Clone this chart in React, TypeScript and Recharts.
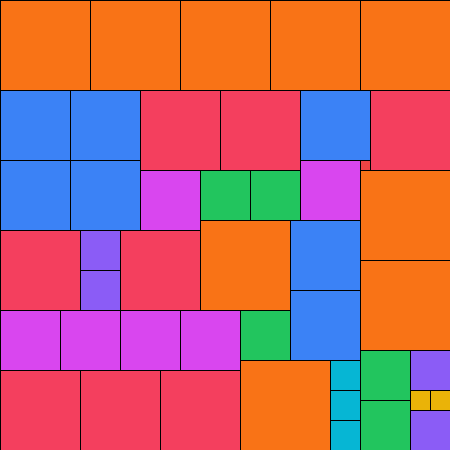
import React from 'react';
import { ComposedChart, XAxis, YAxis, ReferenceArea } from 'recharts';

// Square tiling on a 45 x 45 grid: n squares of side n, for n = 9 … 1
const gridSize = 45;
const sideLengths = [9, 8, 7, 6, 5, 4, 3, 2, 1];

// [column, row] of each square's top-left corner, in grid units
const squares9 = [[0, 0], [9, 0], [18, 0], [27, 0], [36, 0], [36, 17], [20, 22], [36, 26], [24, 36]];
const squares8 = [[14, 9], [22, 9], [37, 9], [0, 23], [12, 23], [0, 37], [8, 37], [16, 37]];
const squares7 = [[0, 9], [7, 9], [0, 16], [7, 16], [30, 9], [29, 22], [29, 29]];
const squares6 = [[14, 17], [30, 16], [0, 31], [6, 31], [12, 31], [18, 31]];
const squares5 = [[20, 17], [25, 17], [24, 31], [36, 35], [36, 40]];
const squares4 = [[8, 23], [8, 27], [41, 35], [41, 41]];
const squares3 = [[33, 36], [33, 39], [33, 42]];
const squares2 = [[41, 39], [43, 39]];
const squares1 = [[36, 16]];

const groups = [squares9, squares8, squares7, squares6, squares5, squares4, squares3, squares2, squares1];

const palette = ['#f97316', '#f43f5e', '#3b82f6', '#d946ef', '#22c55e', '#8b5cf6', '#06b6d4', '#eab308', '#ef4444'];

export default function App() {
  return (
    <div style={{ position: 'absolute', left: 0, top: 0, width: 450, height: 450 }}>
      <ComposedChart width={450} height={450} margin={{ top: 0, right: 0, bottom: 0, left: 0 }}>
        <XAxis type="number" dataKey="x" domain={[0, gridSize]} hide allowDataOverflow />
        <YAxis type="number" dataKey="y" domain={[0, gridSize]} hide reversed allowDataOverflow />
        {sideLengths.map((s, gi) =>
          groups[gi].map(([c, r], i) => (
            <ReferenceArea
              key={`sq-${s}-${i}`}
              x1={c}
              x2={c + s}
              y1={r}
              y2={r + s}
              fill={palette[gi]}
              fillOpacity={1}
              stroke="#000"
              strokeWidth={1}
              ifOverflow="visible"
              shapeRendering="crispEdges"
            />
          ))
        )}
      </ComposedChart>
    </div>
  );
}
